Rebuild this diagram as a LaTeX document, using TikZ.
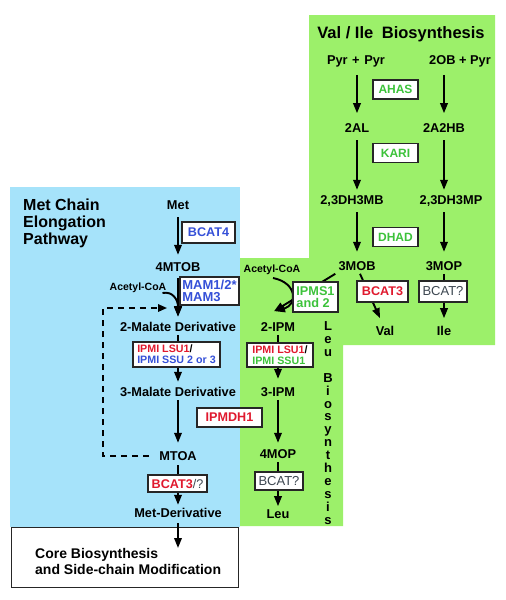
\documentclass[tikz,border=0pt]{standalone}
\usepackage{fontspec}
\setmainfont{Liberation Sans}
\usetikzlibrary{arrows.meta,calc}
\definecolor{bgblue}{HTML}{A6E3FA}
\definecolor{bggreen}{HTML}{9CF06A}
\definecolor{eblue}{HTML}{3550D8}
\definecolor{ered}{HTML}{E0192E}
\definecolor{egreen}{HTML}{3CC23A}
\definecolor{egray}{HTML}{3C4650}
\begin{document}
\begin{tikzpicture}[x=1pt,y=-1pt,
  lbl/.style={font=\fontsize{12.8}{14}\selectfont\bfseries, inner sep=3pt, text height=9.2pt, text depth=0pt},
  sml/.style={font=\fontsize{10.5}{12}\selectfont\bfseries, inner sep=2pt, text height=7.6pt, text depth=0pt},
  enz/.style={draw=black!85, fill=white, line width=1.1pt, inner sep=0pt, align=center},
  ebold/.style={font=\fontsize{12.6}{13}\selectfont\bfseries},
  esmall/.style={font=\fontsize{10.7}{11}\selectfont\bfseries, align=left},
  egreg/.style={font=\fontsize{13}{13}\selectfont, text=egray},
  arr/.style={line width=1.9pt, -{Triangle[length=10pt,width=7.5pt]}},
  dasharr/.style={line width=1.6pt, dash pattern=on 6pt off 5pt, -{Triangle[length=9pt,width=7.5pt]}},
]
\useasboundingbox (0,0) rectangle (506,600);
% backgrounds
\fill[bgblue] (10,187) rectangle (240,527);
\fill[bggreen] (240,258) -- (309,258) -- (309,15) -- (495,15) -- (495,345) -- (343,345) -- (343,526) -- (240,526) -- cycle;
\node[draw=black!85, line width=1.1pt, fill=white, minimum width=227pt, minimum height=60pt, anchor=north west, inner sep=0pt] (core) at (10.5,527) {};
\coordinate (coretip) at (178,548);
% titles
\node[anchor=north west, align=left, inner sep=0pt, font=\fontsize{16}{17}\selectfont\bfseries] (mettitle) at (23,199) {Met Chain\\Elongation\\Pathway};
\node[anchor=north west, align=left, inner sep=0pt, font=\fontsize{14}{16}\selectfont\bfseries] (coretxt) at (35,548) {Core Biosynthesis\\and Side-chain Modification};
\node[font=\fontsize{16.5}{17}\selectfont\bfseries, inner sep=0pt, text height=11.8pt, text depth=0pt] (vtitle) at (401,33) {Val / Ile\hspace{4pt} Biosynthesis};
\node[anchor=north, inner sep=0pt, align=center, font=\fontsize{13}{12.9}\selectfont\bfseries] (leubio) at (328,321.5) {L\\e\\u\\~\\B\\i\\o\\s\\y\\n\\t\\h\\e\\s\\i\\s};
% blue column labels
\node[lbl] (met) at (178,205) {Met};
\node[lbl] (mtob) at (178,267) {4MTOB};
\node[sml] (acb) at (138,287) {Acetyl-CoA};
\node[lbl] (mal2) at (178,327) {2-Malate Derivative};
\node[lbl] (mal3) at (178,392) {3-Malate Derivative};
\node[lbl] (mtoa) at (178,456) {MTOA};
\node[lbl] (metder) at (178,513) {Met-Derivative};
% green labels
\node[lbl] (pp) at (356,60) {Pyr\hspace{1pt} + \hspace{1pt}Pyr};
\node[lbl] (obp) at (460,60) {2OB + Pyr};
\node[lbl] (al) at (357,128) {2AL};
\node[lbl] (ahb) at (444,128) {2A2HB};
\node[lbl] (dmb) at (352,200) {2,3DH3MB};
\node[lbl] (dmp) at (451,200) {2,3DH3MP};
\node[lbl] (mob) at (357,266) {3MOB};
\node[lbl] (mop) at (444,266) {3MOP};
\node[lbl] (val) at (385,331) {Val};
\node[lbl] (ile) at (444,331) {Ile};
\node[sml] (acg) at (272,269) {Acetyl-CoA};
\node[lbl] (ipm2) at (278,327) {2-IPM};
\node[lbl] (ipm3) at (278,392) {3-IPM};
\node[lbl] (mop4) at (278,454) {4MOP};
\node[lbl] (leu) at (278,514) {Leu};
% blue arrows
\draw[arr, shorten <=4.4pt, shorten >=4.4pt] (met) -- (mtob);
\draw[arr, shorten <=3.4pt, shorten >=2.4pt] (mtob) -- (mal2);
\draw[arr, shorten >=2.4pt] (mal2) -- (mal3);
\draw[arr, shorten <=0.4pt, shorten >=5.4pt] (mal3) -- (mtoa);
\draw[arr, shorten <=1.4pt, shorten >=0.4pt] (mtoa) -- (metder);
\draw[arr, shorten <=2.4pt] (metder.south) -- (coretip);
\draw[arr] ($(acb.south east)+(-6,0)$) .. controls (173,291) and (178,300) .. ($(mal2.north)+(0,-3)$);
\coordinate (dc) at (103,456);
\coordinate (dt) at (167,308);
\draw[dasharr, shorten <=7pt] (mtoa.west) -- (dc) |- (dt);
% green arrows
\draw[arr, shorten <=7pt, shorten >=7pt] (al |- pp.south) -- (al.north);
\draw[arr, shorten <=7pt, shorten >=7pt] (ahb |- obp.south) -- (ahb.north);
\draw[arr, shorten <=4.4pt, shorten >=2.4pt] (al.south) -- (al.south |- dmb.north);
\draw[arr, shorten <=4.4pt, shorten >=2.4pt] (ahb.south) -- (ahb.south |- dmp.north);
\draw[arr, shorten <=4.4pt, shorten >=6.4pt] (mob |- dmb.south) -- (mob.north);
\draw[arr, shorten <=4.4pt, shorten >=6.4pt] (mop |- dmp.south) -- (mop.north);
\draw[arr, shorten >=5pt] (mop.south) -- (ile.north);
\draw[arr] ($(mob.south)+(3,0)$) -- ($(val.north)+(-5,-5)$);
\draw[arr] (mob.south west) -- ($(ipm2.north)+(-4,-8)$);
\draw[arr] ($(acg.south)+(1,3)$) .. controls (298,283) and (297,305) .. ($(ipm2.north)+(-3,-8)$);
\draw[arr, shorten >=5.4pt] (ipm2) -- (ipm3);
\draw[arr, shorten >=3.4pt] (ipm3) -- (mop4);
\draw[arr] (mop4) -- (leu);
% enzyme boxes
\node[enz, minimum width=53pt, minimum height=21pt, ebold, text=eblue] (bcat4) at (208.5,232.5) {BCAT4};
\node[enz, minimum width=59pt, minimum height=28pt, font=\fontsize{13}{11.5}\selectfont\bfseries, text=eblue, align=left] (mam) at (209.5,291) {MAM1/2*\\MAM3};
\node[enz, minimum width=87pt, minimum height=25pt, esmall] (ipmib) at (176.5,354.5) {\textcolor{ered}{IPMI LSU1}/\\\textcolor{eblue}{IPMI SSU 2 or 3}};
\node[enz, minimum width=65pt, minimum height=19pt, ebold, text=ered] (ipmdh) at (229.5,417.5) {IPMDH1};
\node[enz, minimum width=59pt, minimum height=17pt, ebold] (bcat3b) at (177.5,483.5) {\textcolor{ered}{BCAT3}\textcolor{egray}{\mdseries/?}};
\node[enz, minimum width=45pt, minimum height=19pt, font=\fontsize{12}{12}\selectfont\bfseries, text=egreen] (ahas) at (395.5,89.5) {AHAS};
\node[enz, minimum width=45pt, minimum height=19pt, font=\fontsize{12}{12}\selectfont\bfseries, text=egreen] (kari) at (395.5,153) {KARI};
\node[enz, minimum width=45pt, minimum height=19pt, font=\fontsize{12}{12}\selectfont\bfseries, text=egreen] (dhad) at (395.5,237) {DHAD};
\node[enz, minimum width=45pt, minimum height=30pt, font=\fontsize{12.7}{12}\selectfont\bfseries, text=egreen, align=left] (ipms) at (315.5,297) {IPMS1\\and 2};
\node[enz, minimum width=51pt, minimum height=21pt, ebold, text=ered] (bcat3g) at (382.5,291.5) {BCAT3};
\node[enz, minimum width=48pt, minimum height=21pt, egreg] (bcatq1) at (443,291.5) {BCAT?};
\node[enz, minimum width=66pt, minimum height=24pt, esmall] (ipmig) at (280,355) {\textcolor{ered}{IPMI LSU1}/\\\textcolor{egreen}{IPMI SSU1}};
\node[enz, minimum width=48pt, minimum height=18pt, egreg] (bcatq2) at (279,481) {BCAT?};
\end{tikzpicture}
\end{document}
